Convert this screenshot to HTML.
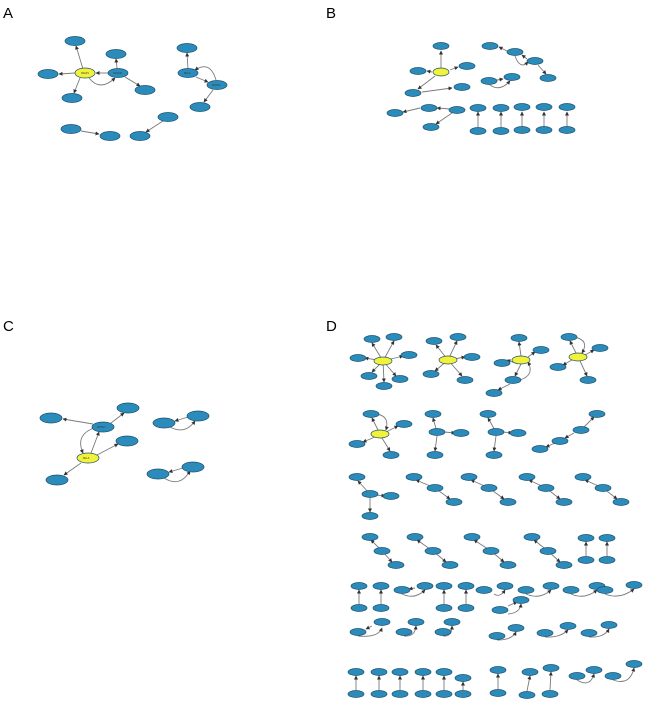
<!DOCTYPE html>
<html><head><meta charset="utf-8"><style>
html,body{margin:0;padding:0;background:#fff;}
svg{display:block;}
.n{fill:#2b8cbc;stroke:#1a4f6e;stroke-width:0.7;}
.y{fill:#f2f23a;stroke:#1a4f6e;stroke-width:0.7;}
.e{stroke:#7a7a7a;stroke-width:0.9;fill:none;marker-end:url(#a);}
.L{font-family:"Liberation Sans",sans-serif;font-size:15px;fill:#000;}
.t{font-family:"Liberation Sans",sans-serif;font-size:2.5px;fill:#333;}
</style></head><body>
<svg width="650" height="706" viewBox="0 0 650 706" xmlns="http://www.w3.org/2000/svg">
<defs><marker id="a" markerWidth="4" markerHeight="4" refX="3.5" refY="2" orient="auto" markerUnits="userSpaceOnUse"><path d="M0,0L4,2L0,4z" fill="#333"/></marker></defs>
<text class="L" x="3" y="18">A</text>
<text class="L" x="326" y="18">B</text>
<text class="L" x="3" y="331">C</text>
<text class="L" x="326" y="331">D</text>

<!-- Panel A edges -->
<g class="e">
<line x1="83" y1="69" x2="76" y2="46"/><line x1="75" y1="73" x2="59" y2="74"/><line x1="80" y1="78" x2="74" y2="93"/>
<line x1="108" y1="73" x2="96" y2="73"/><line x1="117" y1="68" x2="116" y2="59"/><line x1="125" y1="77" x2="140" y2="86"/>
<path d="M89,78 Q100,92 115,78"/>
<line x1="188" y1="69" x2="187" y2="53"/><line x1="196" y1="77" x2="208" y2="82"/><line x1="213" y1="90" x2="204" y2="102"/>
<path d="M216,80 Q210,60 195,70"/>
<line x1="81" y1="131" x2="99" y2="134"/><line x1="163" y1="121" x2="146" y2="132"/>
</g>
<g>
<ellipse class="y" cx="85" cy="73" rx="10" ry="5"/>
<ellipse class="n" cx="75" cy="41" rx="10" ry="4.5"/><ellipse class="n" cx="48" cy="74" rx="10" ry="4.5"/><ellipse class="n" cx="72" cy="98" rx="10" ry="4.5"/>
<ellipse class="n" cx="118" cy="73" rx="10" ry="4.5"/><ellipse class="n" cx="116" cy="54" rx="10" ry="4.5"/><ellipse class="n" cx="145" cy="90" rx="10" ry="4.5"/>
<ellipse class="n" cx="188" cy="73" rx="10" ry="4.5"/><ellipse class="n" cx="187" cy="48" rx="10" ry="4.5"/><ellipse class="n" cx="217" cy="85" rx="10" ry="4.5"/><ellipse class="n" cx="200" cy="107" rx="10" ry="4.5"/>
<ellipse class="n" cx="71" cy="129" rx="10" ry="4.5"/><ellipse class="n" cx="110" cy="136" rx="10" ry="4.5"/>
<ellipse class="n" cx="168" cy="117" rx="10" ry="4.5"/><ellipse class="n" cx="140" cy="136" rx="10" ry="4.5"/>
</g>
<text class="t" x="81" y="74">NFAP1</text><text class="t" x="113" y="74">C15orf2</text><text class="t" x="184" y="74">MLL3</text><text class="t" x="212" y="86">KMT2C</text>

<!-- Panel B -->
<g class="e">
<line x1="441" y1="68" x2="441" y2="51"/><line x1="432" y1="72" x2="427" y2="71"/><line x1="450" y1="70" x2="458" y2="67"/>
<line x1="435" y1="76" x2="418" y2="89"/><line x1="422" y1="92" x2="452" y2="88"/>
<line x1="507" y1="51" x2="499" y2="47"/><line x1="527" y1="59" x2="522" y2="55"/><line x1="538" y1="65" x2="546" y2="74"/>
<path d="M515,56 Q520,70 528,62"/><path d="M490,85 Q500,92 510,81"/><line x1="497" y1="80" x2="503" y2="79"/>
<line x1="420" y1="108" x2="403" y2="112"/><line x1="450" y1="109" x2="437" y2="108"/><line x1="452" y1="113" x2="436" y2="124"/>
<line x1="478" y1="127" x2="478" y2="112"/><line x1="501" y1="127" x2="501" y2="112"/><line x1="522" y1="127" x2="522" y2="112"/><line x1="544" y1="127" x2="544" y2="112"/><line x1="567" y1="127" x2="567" y2="112"/>
</g>
<g>
<ellipse class="y" cx="441" cy="72" rx="8" ry="4"/>
<ellipse class="n" cx="441" cy="46" rx="8" ry="3.5"/><ellipse class="n" cx="418" cy="71" rx="8" ry="3.5"/><ellipse class="n" cx="467" cy="66" rx="8" ry="3.5"/><ellipse class="n" cx="413" cy="93" rx="8" ry="3.5"/><ellipse class="n" cx="462" cy="87" rx="8" ry="3.5"/>
<ellipse class="n" cx="490" cy="46" rx="8" ry="3.5"/><ellipse class="n" cx="515" cy="52" rx="8" ry="3.5"/><ellipse class="n" cx="535" cy="61" rx="8" ry="3.5"/><ellipse class="n" cx="548" cy="78" rx="8" ry="3.5"/>
<ellipse class="n" cx="489" cy="81" rx="8" ry="3.5"/><ellipse class="n" cx="512" cy="77" rx="8" ry="3.5"/>
<ellipse class="n" cx="395" cy="113" rx="8" ry="3.5"/><ellipse class="n" cx="429" cy="108" rx="8" ry="3.5"/><ellipse class="n" cx="457" cy="110" rx="8" ry="3.5"/><ellipse class="n" cx="431" cy="127" rx="8" ry="3.5"/>
<ellipse class="n" cx="478" cy="108" rx="8" ry="3.5"/><ellipse class="n" cx="501" cy="108" rx="8" ry="3.5"/><ellipse class="n" cx="522" cy="107" rx="8" ry="3.5"/><ellipse class="n" cx="544" cy="107" rx="8" ry="3.5"/><ellipse class="n" cx="567" cy="107" rx="8" ry="3.5"/>
<ellipse class="n" cx="478" cy="131" rx="8" ry="3.5"/><ellipse class="n" cx="501" cy="131" rx="8" ry="3.5"/><ellipse class="n" cx="522" cy="130" rx="8" ry="3.5"/><ellipse class="n" cx="544" cy="130" rx="8" ry="3.5"/><ellipse class="n" cx="567" cy="130" rx="8" ry="3.5"/>
</g>

<!-- Panel C -->
<g class="e">
<line x1="93" y1="424" x2="63" y2="419"/><line x1="111" y1="423" x2="124" y2="413"/><line x1="91" y1="453" x2="99" y2="432"/>
<path d="M94,428 Q75,435 83,453"/><line x1="97" y1="455" x2="118" y2="444"/><line x1="81" y1="463" x2="64" y2="475"/>
<path d="M170,427 Q185,435 195,421"/><line x1="188" y1="417" x2="175" y2="421"/>
<path d="M164,478 Q180,488 190,471"/><line x1="183" y1="468" x2="169" y2="472"/>
</g>
<g>
<ellipse class="y" cx="88" cy="458" rx="11" ry="5"/>
<ellipse class="n" cx="103" cy="427" rx="11" ry="5"/><ellipse class="n" cx="51" cy="418" rx="11" ry="5"/><ellipse class="n" cx="128" cy="408" rx="11" ry="5"/><ellipse class="n" cx="127" cy="441" rx="11" ry="5"/><ellipse class="n" cx="57" cy="480" rx="11" ry="5"/>
<ellipse class="n" cx="164" cy="423" rx="11" ry="5"/><ellipse class="n" cx="198" cy="416" rx="11" ry="5"/><ellipse class="n" cx="158" cy="474" rx="11" ry="5"/><ellipse class="n" cx="193" cy="467" rx="11" ry="5"/>
</g>
<text class="t" x="83" y="459">MLL3</text><text class="t" x="97" y="428">KMT2C</text>

<!-- Panel D edges -->
<g class="e">
<line x1="383" y1="361" x2="372" y2="343"/><line x1="383" y1="361" x2="394" y2="341"/><line x1="383" y1="361" x2="403" y2="356"/><line x1="383" y1="361" x2="365" y2="358"/><line x1="383" y1="361" x2="372" y2="372"/><line x1="383" y1="361" x2="384" y2="382"/><line x1="383" y1="361" x2="396" y2="376"/>
<line x1="448" y1="360" x2="436" y2="345"/><line x1="448" y1="360" x2="457" y2="341"/><line x1="448" y1="360" x2="465" y2="357"/><line x1="448" y1="360" x2="435" y2="371"/><line x1="448" y1="360" x2="462" y2="376"/>
<line x1="521" y1="356" x2="519" y2="342"/><line x1="528" y1="357" x2="535" y2="352"/><line x1="518" y1="364" x2="507" y2="360"/><line x1="521" y1="364" x2="515" y2="376"/><line x1="510" y1="384" x2="498" y2="390"/><path d="M520,380 Q535,375 528,362"/>
<line x1="578" y1="357" x2="570" y2="341"/><line x1="585" y1="355" x2="594" y2="350"/><line x1="572" y1="360" x2="563" y2="365"/><line x1="580" y1="361" x2="587" y2="376"/><path d="M574,337 Q590,340 582,353"/>
<line x1="380" y1="434" x2="372" y2="418"/><line x1="386" y1="432" x2="398" y2="426"/><line x1="375" y1="437" x2="363" y2="442"/><line x1="382" y1="438" x2="390" y2="451"/><path d="M375,414 Q390,415 386,430"/>
<line x1="437" y1="432" x2="433" y2="418"/><line x1="444" y1="432" x2="455" y2="433"/><line x1="437" y1="436" x2="435" y2="451"/>
<line x1="496" y1="432" x2="488" y2="418"/><line x1="503" y1="432" x2="512" y2="433"/><line x1="496" y1="436" x2="494" y2="451"/>
<line x1="581" y1="430" x2="594" y2="417"/><line x1="574" y1="433" x2="565" y2="438"/><line x1="555" y1="443" x2="546" y2="447"/>
<line x1="370" y1="494" x2="358" y2="481"/><line x1="376" y1="495" x2="385" y2="496"/><line x1="370" y1="494" x2="370" y2="512"/>
<line x1="435" y1="488" x2="416" y2="480"/><line x1="435" y1="488" x2="450" y2="499"/>
<line x1="489" y1="488" x2="471" y2="480"/><line x1="489" y1="488" x2="504" y2="499"/>
<line x1="546" y1="488" x2="529" y2="480"/><line x1="546" y1="488" x2="560" y2="499"/>
<line x1="603" y1="488" x2="585" y2="480"/><line x1="603" y1="488" x2="617" y2="499"/>
<line x1="382" y1="551" x2="371" y2="540"/><line x1="382" y1="551" x2="392" y2="562"/>
<line x1="433" y1="551" x2="417" y2="540"/><line x1="433" y1="551" x2="446" y2="562"/>
<line x1="491" y1="551" x2="474" y2="540"/><line x1="491" y1="551" x2="504" y2="562"/>
<line x1="548" y1="551" x2="534" y2="540"/><line x1="548" y1="551" x2="560" y2="562"/>
<line x1="586" y1="556" x2="586" y2="542"/><line x1="607" y1="556" x2="607" y2="542"/>
<line x1="359" y1="604" x2="359" y2="590"/><line x1="381" y1="604" x2="381" y2="590"/>
<line x1="415" y1="588" x2="409" y2="589"/><path d="M402,594 Q415,600 425,590"/>
<line x1="444" y1="604" x2="444" y2="590"/><line x1="466" y1="604" x2="466" y2="590"/>
<path d="M494,594 Q500,598 505,590"/><path d="M526,594 Q540,600 551,590"/><path d="M571,594 Q585,600 597,590"/><path d="M605,594 Q620,600 634,589"/>
<line x1="508" y1="606" x2="517" y2="602"/><path d="M508,614 Q520,613 521,604"/>
<path d="M358,636 Q378,638 382,628"/><line x1="372" y1="626" x2="366" y2="629"/>
<path d="M404,636 Q415,637 416,626"/><path d="M443,636 Q452,637 452,626"/>
<path d="M497,640 Q512,640 516,632"/><path d="M545,637 Q560,638 568,630"/><path d="M589,637 Q604,638 609,629"/>
<line x1="356" y1="690" x2="356" y2="676"/><line x1="379" y1="690" x2="379" y2="676"/><line x1="400" y1="690" x2="400" y2="676"/><line x1="423" y1="690" x2="423" y2="676"/><line x1="444" y1="690" x2="444" y2="676"/><line x1="463" y1="690" x2="463" y2="682"/>
<line x1="498" y1="689" x2="498" y2="674"/><line x1="527" y1="691" x2="530" y2="676"/><line x1="550" y1="690" x2="551" y2="672"/>
<path d="M577,680 Q590,688 594,674"/><path d="M613,680 Q630,686 634,668"/>
</g>
<g>
<ellipse class="y" cx="383" cy="361" rx="9" ry="4"/><ellipse class="y" cx="448" cy="360" rx="9" ry="4"/><ellipse class="y" cx="521" cy="360" rx="9" ry="4"/><ellipse class="y" cx="578" cy="357" rx="9" ry="4"/><ellipse class="y" cx="380" cy="434" rx="9" ry="4"/>
</g>
<g class="n">
<ellipse cx="372" cy="339" rx="8" ry="3.5"/><ellipse cx="394" cy="337" rx="8" ry="3.5"/><ellipse cx="409" cy="355" rx="8" ry="3.5"/><ellipse cx="358" cy="358" rx="8" ry="3.5"/><ellipse cx="369" cy="376" rx="8" ry="3.5"/><ellipse cx="384" cy="386" rx="8" ry="3.5"/><ellipse cx="400" cy="379" rx="8" ry="3.5"/>
<ellipse cx="434" cy="341" rx="8" ry="3.5"/><ellipse cx="458" cy="337" rx="8" ry="3.5"/><ellipse cx="472" cy="357" rx="8" ry="3.5"/><ellipse cx="431" cy="374" rx="8" ry="3.5"/><ellipse cx="465" cy="380" rx="8" ry="3.5"/>
<ellipse cx="519" cy="338" rx="8" ry="3.5"/><ellipse cx="541" cy="350" rx="8" ry="3.5"/><ellipse cx="502" cy="363" rx="8" ry="3.5"/><ellipse cx="513" cy="380" rx="8" ry="3.5"/><ellipse cx="494" cy="393" rx="8" ry="3.5"/>
<ellipse cx="569" cy="337" rx="8" ry="3.5"/><ellipse cx="600" cy="348" rx="8" ry="3.5"/><ellipse cx="558" cy="367" rx="8" ry="3.5"/><ellipse cx="588" cy="380" rx="8" ry="3.5"/>
<ellipse cx="371" cy="414" rx="8" ry="3.5"/><ellipse cx="404" cy="424" rx="8" ry="3.5"/><ellipse cx="357" cy="444" rx="8" ry="3.5"/><ellipse cx="391" cy="455" rx="8" ry="3.5"/>
<ellipse cx="433" cy="414" rx="8" ry="3.5"/><ellipse cx="437" cy="432" rx="8" ry="3.5"/><ellipse cx="461" cy="433" rx="8" ry="3.5"/><ellipse cx="435" cy="455" rx="8" ry="3.5"/>
<ellipse cx="488" cy="414" rx="8" ry="3.5"/><ellipse cx="496" cy="432" rx="8" ry="3.5"/><ellipse cx="518" cy="433" rx="8" ry="3.5"/><ellipse cx="494" cy="455" rx="8" ry="3.5"/>
<ellipse cx="597" cy="414" rx="8" ry="3.5"/><ellipse cx="581" cy="430" rx="8" ry="3.5"/><ellipse cx="560" cy="441" rx="8" ry="3.5"/><ellipse cx="540" cy="449" rx="8" ry="3.5"/>
<ellipse cx="357" cy="477" rx="8" ry="3.5"/><ellipse cx="370" cy="494" rx="8" ry="3.5"/><ellipse cx="391" cy="496" rx="8" ry="3.5"/><ellipse cx="370" cy="516" rx="8" ry="3.5"/>
<ellipse cx="414" cy="477" rx="8" ry="3.5"/><ellipse cx="435" cy="488" rx="8" ry="3.5"/><ellipse cx="454" cy="502" rx="8" ry="3.5"/>
<ellipse cx="469" cy="477" rx="8" ry="3.5"/><ellipse cx="489" cy="488" rx="8" ry="3.5"/><ellipse cx="508" cy="502" rx="8" ry="3.5"/>
<ellipse cx="527" cy="477" rx="8" ry="3.5"/><ellipse cx="546" cy="488" rx="8" ry="3.5"/><ellipse cx="564" cy="502" rx="8" ry="3.5"/>
<ellipse cx="583" cy="477" rx="8" ry="3.5"/><ellipse cx="603" cy="488" rx="8" ry="3.5"/><ellipse cx="621" cy="502" rx="8" ry="3.5"/>
<ellipse cx="370" cy="537" rx="8" ry="3.5"/><ellipse cx="382" cy="551" rx="8" ry="3.5"/><ellipse cx="396" cy="565" rx="8" ry="3.5"/>
<ellipse cx="415" cy="537" rx="8" ry="3.5"/><ellipse cx="433" cy="551" rx="8" ry="3.5"/><ellipse cx="450" cy="565" rx="8" ry="3.5"/>
<ellipse cx="472" cy="537" rx="8" ry="3.5"/><ellipse cx="491" cy="551" rx="8" ry="3.5"/><ellipse cx="508" cy="565" rx="8" ry="3.5"/>
<ellipse cx="532" cy="537" rx="8" ry="3.5"/><ellipse cx="548" cy="551" rx="8" ry="3.5"/><ellipse cx="564" cy="565" rx="8" ry="3.5"/>
<ellipse cx="586" cy="538" rx="8" ry="3.5"/><ellipse cx="586" cy="560" rx="8" ry="3.5"/><ellipse cx="607" cy="538" rx="8" ry="3.5"/><ellipse cx="607" cy="560" rx="8" ry="3.5"/>
<ellipse cx="359" cy="586" rx="8" ry="3.5"/><ellipse cx="359" cy="608" rx="8" ry="3.5"/><ellipse cx="381" cy="586" rx="8" ry="3.5"/><ellipse cx="381" cy="608" rx="8" ry="3.5"/>
<ellipse cx="402" cy="590" rx="8" ry="3.5"/><ellipse cx="425" cy="586" rx="8" ry="3.5"/>
<ellipse cx="444" cy="586" rx="8" ry="3.5"/><ellipse cx="444" cy="608" rx="8" ry="3.5"/><ellipse cx="466" cy="586" rx="8" ry="3.5"/><ellipse cx="466" cy="608" rx="8" ry="3.5"/>
<ellipse cx="484" cy="590" rx="8" ry="3.5"/><ellipse cx="505" cy="586" rx="8" ry="3.5"/>
<ellipse cx="526" cy="590" rx="8" ry="3.5"/><ellipse cx="551" cy="586" rx="8" ry="3.5"/>
<ellipse cx="571" cy="590" rx="8" ry="3.5"/><ellipse cx="597" cy="586" rx="8" ry="3.5"/>
<ellipse cx="605" cy="590" rx="8" ry="3.5"/><ellipse cx="634" cy="585" rx="8" ry="3.5"/>
<ellipse cx="500" cy="610" rx="8" ry="3.5"/><ellipse cx="521" cy="600" rx="8" ry="3.5"/>
<ellipse cx="382" cy="622" rx="8" ry="3.5"/><ellipse cx="358" cy="632" rx="8" ry="3.5"/>
<ellipse cx="416" cy="622" rx="8" ry="3.5"/><ellipse cx="404" cy="632" rx="8" ry="3.5"/>
<ellipse cx="452" cy="622" rx="8" ry="3.5"/><ellipse cx="443" cy="632" rx="8" ry="3.5"/>
<ellipse cx="516" cy="628" rx="8" ry="3.5"/><ellipse cx="497" cy="636" rx="8" ry="3.5"/>
<ellipse cx="568" cy="626" rx="8" ry="3.5"/><ellipse cx="545" cy="633" rx="8" ry="3.5"/>
<ellipse cx="609" cy="625" rx="8" ry="3.5"/><ellipse cx="589" cy="633" rx="8" ry="3.5"/>
<ellipse cx="356" cy="672" rx="8" ry="3.5"/><ellipse cx="356" cy="694" rx="8" ry="3.5"/><ellipse cx="379" cy="672" rx="8" ry="3.5"/><ellipse cx="379" cy="694" rx="8" ry="3.5"/>
<ellipse cx="400" cy="672" rx="8" ry="3.5"/><ellipse cx="400" cy="694" rx="8" ry="3.5"/><ellipse cx="423" cy="672" rx="8" ry="3.5"/><ellipse cx="423" cy="694" rx="8" ry="3.5"/>
<ellipse cx="444" cy="672" rx="8" ry="3.5"/><ellipse cx="444" cy="694" rx="8" ry="3.5"/><ellipse cx="463" cy="678" rx="8" ry="3.5"/><ellipse cx="463" cy="694" rx="8" ry="3.5"/>
<ellipse cx="498" cy="670" rx="8" ry="3.5"/><ellipse cx="498" cy="693" rx="8" ry="3.5"/><ellipse cx="530" cy="672" rx="8" ry="3.5"/><ellipse cx="527" cy="695" rx="8" ry="3.5"/>
<ellipse cx="551" cy="668" rx="8" ry="3.5"/><ellipse cx="550" cy="694" rx="8" ry="3.5"/>
<ellipse cx="577" cy="676" rx="8" ry="3.5"/><ellipse cx="594" cy="670" rx="8" ry="3.5"/>
<ellipse cx="634" cy="664" rx="8" ry="3.5"/><ellipse cx="613" cy="676" rx="8" ry="3.5"/>
</g>
</svg>
</body></html>
